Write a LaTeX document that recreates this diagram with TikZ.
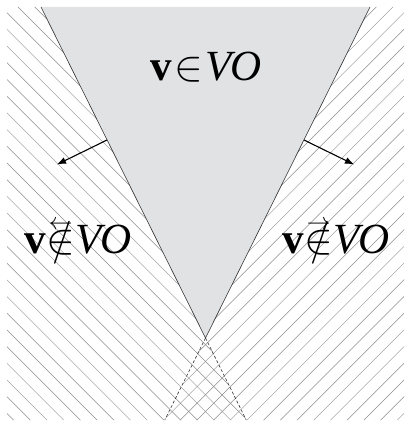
\documentclass[tikz,border=0pt]{standalone}
\usepackage{fix-cm}
\usepackage{graphicx}
\usepackage{fontspec}
\setmainfont{Liberation Serif}
\usetikzlibrary{arrows,arrows.meta,positioning}
\definecolor{conegray}{RGB}{225,226,228}
\newcommand{\notinarrow}[1]{\mathrel{\ooalign{$\notin$\cr\hfil\raisebox{0.56em}{\resizebox{0.55em}{!}{$#1$}}\hfil\cr}}}

\begin{document}
\begin{tikzpicture}[x=1pt,y=-1pt,
	hatch/.style={black!45,line width=0.45pt},
	edge/.style={black!80,line width=0.6pt},
	normalarrow/.style={-{Latex[length=9pt,width=7pt]},line width=1.1pt},
	vlabel/.style={font=\fontsize{43}{43}\selectfont}]
	\useasboundingbox (0,0) rectangle (412,427);
	\coordinate (TL) at (41,7);
	\coordinate (TR) at (370,7);
	\coordinate (A) at (205.5,338);
	\coordinate (BL) at (164.75,420);
	\coordinate (BR) at (246.25,420);
	
	\fill[conegray] (TL) -- (A) -- (TR) -- cycle;
	% left side
	\begin{scope}
		\clip (7,7) -- (TL) -- (BR) -- (7,420) -- cycle;
		\foreach \k in {-25,...,25}
			\draw[hatch] ({-323+16.7*\k},0) -- ++(460,460);
	\end{scope}
	% right side
	\begin{scope}
		\clip (404,7) -- (TR) -- (BL) -- (404,420) -- cycle;
		\foreach \k in {-40,...,25}
			\draw[hatch] ({617+16.7*\k},0) -- ++(-460,460);
	\end{scope}
	
	\draw[edge] (TL) -- (A) -- (TR);
	\draw[edge,dash pattern=on 3pt off 2pt] (A) -- (BL);
	\draw[edge,dash pattern=on 3pt off 2pt] (A) -- (BR);
	
	\coordinate (L1) at (107,140);
	\coordinate (L2) at (57,164.5);
	\coordinate (R1) at (304,140);
	\coordinate (R2) at (354,164.5);
	\draw[normalarrow] (L1) -- (L2);
	\draw[normalarrow] (R1) -- (R2);
	
	\node[vlabel] (vin) at (206,67) {\textbf{v}\kern2pt$\in$\kern2pt\textit{VO}};
	\node[vlabel] (vleft) at (78,238) {\textbf{v}$\notinarrow{\leftarrow}$\textit{VO}};
	\node[vlabel] (vright) at (336,238) {\textbf{v}$\notinarrow{\rightarrow}$\textit{VO}};
\end{tikzpicture}
\end{document}
